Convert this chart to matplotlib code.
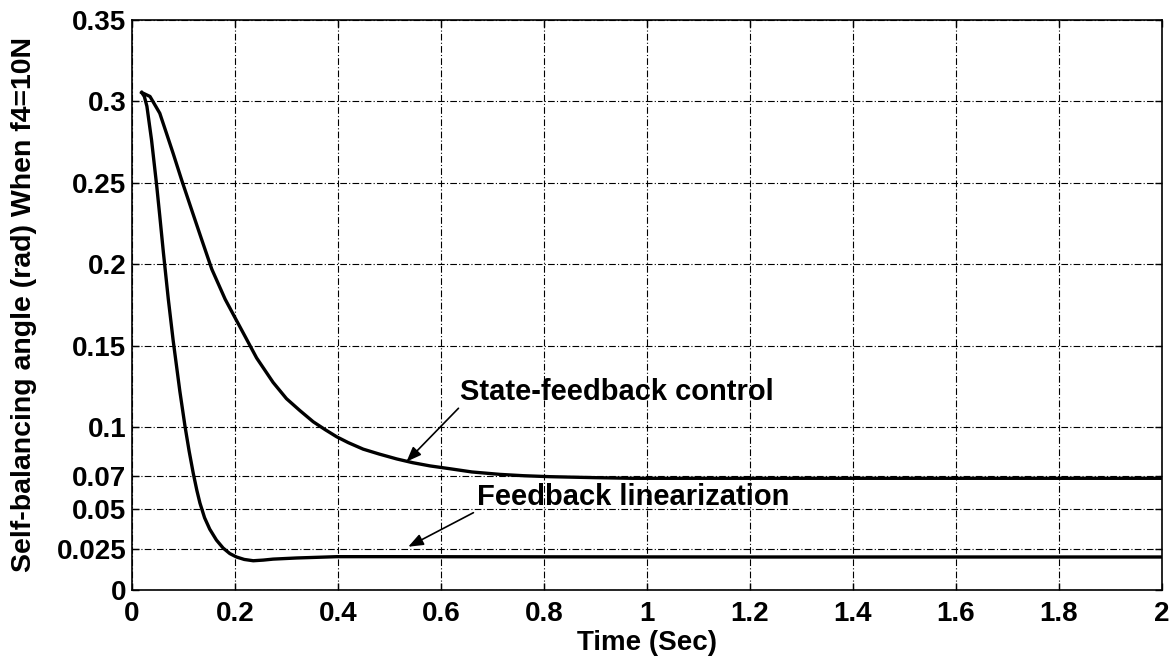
import matplotlib.pyplot as plt
import numpy as np

# lecture approximative des courbes
t_sf = [0.019, 0.035, 0.054, 0.067, 0.080, 0.0965, 0.116, 0.135, 0.155, 0.181, 0.203, 0.22,
        0.242, 0.274, 0.30, 0.326, 0.352, 0.375, 0.3975, 0.42, 0.449, 0.48, 0.514, 0.545,
        0.579, 0.617, 0.66, 0.715, 0.76, 0.812, 0.9, 0.973, 1.2, 1.5, 2.0]
y_sf = [0.3054, 0.303, 0.2927, 0.2804, 0.268, 0.2517, 0.2333, 0.2155, 0.197, 0.1785, 0.1655,
        0.1555, 0.1425, 0.1275, 0.1175, 0.1102, 0.1033, 0.0985, 0.0941, 0.0905, 0.0865, 0.0835,
        0.0805, 0.0782, 0.0762, 0.0745, 0.0725, 0.071, 0.0702, 0.0696, 0.069, 0.0686, 0.0686,
        0.0686, 0.0686]

t_fl = [0.019, 0.024, 0.029, 0.038, 0.048, 0.054, 0.061, 0.0705, 0.08, 0.093, 0.103, 0.111,
        0.119, 0.126, 0.132, 0.141, 0.151, 0.164, 0.177, 0.19, 0.203, 0.218, 0.2355, 0.255,
        0.274, 0.32, 0.3975, 0.5, 0.8, 1.2, 1.6, 2.0]
y_fl = [0.3054, 0.303, 0.297, 0.2763, 0.2483, 0.2297, 0.2073, 0.1788, 0.1532, 0.122, 0.1005,
        0.0853, 0.0717, 0.0612, 0.0534, 0.0444, 0.0374, 0.0307, 0.0258, 0.0224, 0.0203, 0.0188,
        0.018, 0.0184, 0.019, 0.0197, 0.0205, 0.0205, 0.0204, 0.0203, 0.0203, 0.0203]

xticks = [0, 0.2, 0.4, 0.6, 0.8, 1, 1.2, 1.4, 1.6, 1.8, 2]
yticks = [0, 0.025, 0.05, 0.07, 0.1, 0.15, 0.2, 0.25, 0.3, 0.35]
ylabels = ['0', '0.025', '0.05', '0.07', '0.1', '0.15', '0.2', '0.25', '0.3', '0.35']
xlabels = ['0', '0.2', '0.4', '0.6', '0.8', '1', '1.2', '1.4', '1.6', '1.8', '2']

plt.rcParams['font.family'] = ['Liberation Sans', 'DejaVu Sans']
plt.rcParams['font.weight'] = 'bold'

fig = plt.figure(figsize=(11.73, 6.63), dpi=100)
ax = fig.add_axes([0.1125, 0.110, 0.8781, 0.860])

ax.plot(t_sf, y_sf, color='black', lw=2.4, solid_joinstyle='round')
ax.plot(t_fl, y_fl, color='black', lw=2.4, solid_joinstyle='round')

ax.set_xlim(0, 2)
ax.set_ylim(0, 0.35)
ax.set_xticks(xticks)
ax.set_xticklabels(xlabels)
ax.set_yticks(yticks)
ax.set_yticklabels(ylabels)
ax.tick_params(direction='in', top=True, right=True, labelsize=20, length=5, width=1)
ax.tick_params(axis='x', pad=8)
ax.tick_params(axis='y', pad=4)
for s in ax.spines.values():
    s.set_linewidth(1.2)

ax.grid(True, color='black', lw=0.8, linestyle=(0, (6, 2, 1, 2)))

ax.set_xlabel('Time (Sec)', fontsize=20, fontweight='bold', labelpad=2)
ax.set_ylabel('Self-balancing angle (rad) When f4=10N', fontsize=20.5, fontweight='bold', labelpad=14)

# annotations : texte + fleche
fleche = dict(arrowstyle='-|>,head_length=0.9,head_width=0.35', color='black', lw=1.2,
              shrinkA=0, shrinkB=0)
ax.text(0.637, 0.1215, 'State-feedback control', fontsize=21, fontweight='bold',
        va='center', ha='left')
ax.annotate('', xy=(0.533, 0.0788), xytext=(0.634, 0.1116), arrowprops=fleche)
ax.text(0.669, 0.0573, 'Feedback linearization', fontsize=21, fontweight='bold',
        va='center', ha='left')
ax.annotate('', xy=(0.5365, 0.0266), xytext=(0.663, 0.0475), arrowprops=fleche)

fig.savefig('out.png', dpi=100)
